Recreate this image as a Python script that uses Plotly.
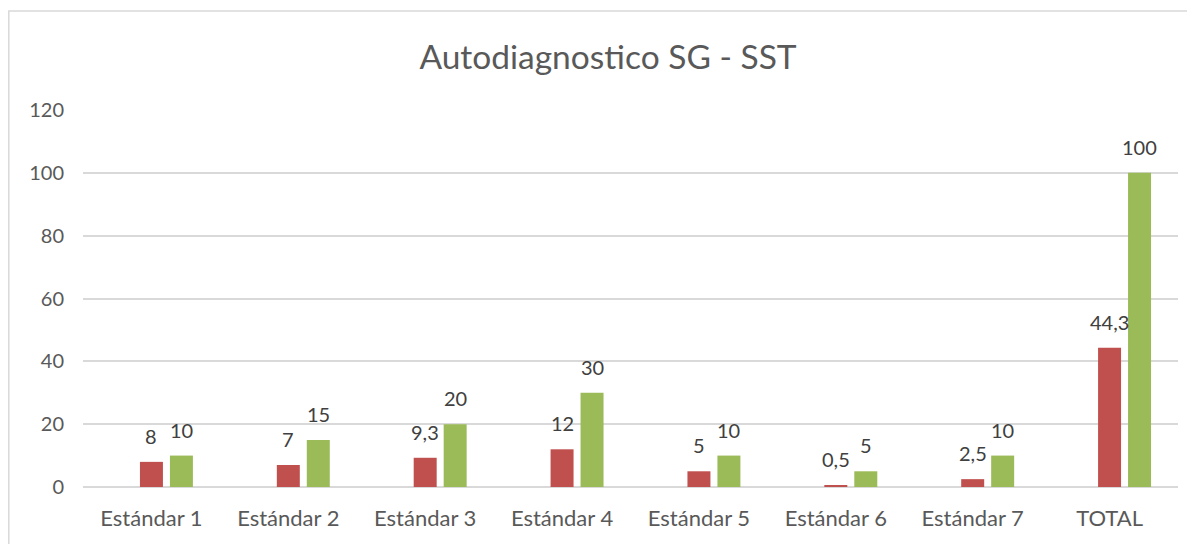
import plotly.graph_objects as go

categories = ["Estándar 1", "Estándar 2", "Estándar 3", "Estándar 4",
              "Estándar 5", "Estándar 6", "Estándar 7", "TOTAL"]
obtenido = [8, 7, 9.3, 12, 5, 0.5, 2.5, 44.3]
maximo = [10, 15, 20, 30, 10, 5, 10, 100]
y_ticks = [0, 20, 40, 60, 80, 100, 120]

FONT = "Lato"
OFF = 8  # default page body margin
W, H = 1195 - OFF, 544 - OFF
L, R, T, B = 83 - OFF, 17, 110 - OFF, 57
pw, ph = W - L - R, H - T - B

BAR_W = 0.168
RED_OFF = -0.084
GREEN_OFF = 0.135
cat_px = pw / len(categories)

label_font = dict(family=FONT, size=20, color="#404040")

fig = go.Figure()
fig.add_trace(go.Bar(
    x=categories, y=obtenido, name="Obtenido",
    marker=dict(color="#C0504D", line=dict(width=0)),
    width=BAR_W, offset=RED_OFF,
))
fig.add_trace(go.Bar(
    x=categories, y=maximo, name="Máximo",
    marker=dict(color="#9BBB59", line=dict(width=0)),
    width=BAR_W, offset=GREEN_OFF,
))


def fmt(v):
    return (f"{v:g}").replace(".", ",")


annotations = []
for series, off in ((obtenido, RED_OFF), (maximo, GREEN_OFF)):
    shift = (off + BAR_W / 2) * cat_px
    for c, v in zip(categories, series):
        annotations.append(dict(
            x=c, y=v, xref="x", yref="y", text=fmt(v), showarrow=False,
            xanchor="center", yanchor="bottom", xshift=shift, yshift=12,
            font=label_font,
        ))

fig.update_layout(
    width=W, height=H,
    margin=dict(l=L, r=R, t=T, b=B, autoexpand=False),
    paper_bgcolor="white", plot_bgcolor="white",
    separators=",.",
    showlegend=False,
    barmode="group",
    annotations=annotations,
    title=dict(text="Autodiagnostico SG - SST", x=(608 - OFF) / W, xanchor="center",
               y=1 - (57 - OFF) / H, yanchor="middle",
               font=dict(family=FONT, size=33.5, color="#595959")),
    font=dict(family=FONT, color="#595959"),
    xaxis=dict(showgrid=False, showline=False, ticks="",
               tickfont=dict(family=FONT, size=22, color="#595959"),
               ticklabelstandoff=16),
    yaxis=dict(range=[0, 120], tickvals=y_ticks, showgrid=True,
               gridcolor="#D9D9D9", gridwidth=1.5,
               zeroline=True, zerolinecolor="#D9D9D9", zerolinewidth=1.5,
               showline=False, ticks="",
               tickfont=dict(family=FONT, size=20, color="#595959"),
               ticklabelstandoff=18),
    shapes=[dict(type="rect", xref="paper", yref="paper",
                 x0=(0.8 - L) / pw, x1=(W + 5 - L) / pw,
                 y0=-(B + 5) / ph, y1=1 + (T - 3) / ph,
                 line=dict(color="#D9D9D9", width=1.5), layer="below")],
)

fig.write_html("out.html")
